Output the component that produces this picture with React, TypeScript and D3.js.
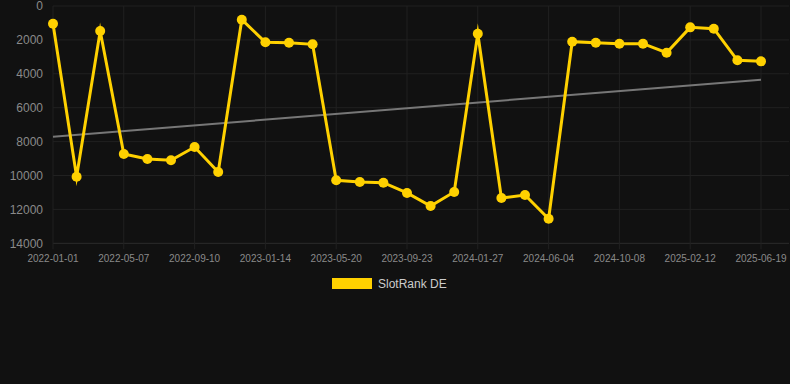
import React from "react";
import * as d3 from "d3";

const categories: string[] = [
  "2022-01-01", "2022-02-12", "2022-03-26", "2022-05-07", "2022-06-18", "2022-07-30",
  "2022-09-10", "2022-10-22", "2022-12-03", "2023-01-14", "2023-02-25", "2023-04-08",
  "2023-05-20", "2023-07-01", "2023-08-12", "2023-09-23", "2023-11-04", "2023-12-16",
  "2024-01-27", "2024-03-09", "2024-04-20", "2024-06-04", "2024-07-16", "2024-08-27",
  "2024-10-08", "2024-11-19", "2024-12-31", "2025-02-12", "2025-03-26", "2025-05-07",
  "2025-06-19",
];

const slotRankDE: number[] = [
  1050, 10070, 1475, 8730, 9030, 9100, 8320, 9790, 808, 2140, 2165, 2260,
  10285, 10380, 10425, 11030, 11800, 10970, 1634, 11330, 11150, 12550, 2105, 2165,
  2224, 2224, 2755, 1260, 1340, 3205, 3265,
];

const tickLabels: string[] = [
  "2022-01-01", "2022-05-07", "2022-09-10", "2023-01-14", "2023-05-20", "2023-09-23",
  "2024-01-27", "2024-06-04", "2024-10-08", "2025-02-12", "2025-06-19",
];

const yTicks: number[] = [0, 2000, 4000, 6000, 8000, 10000, 12000, 14000];

const seriesName = "SlotRank DE";

const W = 790;
const H = 384;
const left = 53;
const right = 761;
const top = 6;
const bottom = 243.3;
const YELLOW = "#FFD100";

export default function App() {
  const x = d3.scalePoint<string>().domain(categories).range([left, right]);
  const y = d3.scaleLinear().domain([0, 14000]).range([top, bottom]);

  const line = d3
    .line<number>()
    .x((_, i) => x(categories[i]) as number)
    .y((d) => y(d));

  // least squares trend
  const n = slotRankDE.length;
  const xs = d3.range(n);
  const mx = d3.mean(xs) as number;
  const my = d3.mean(slotRankDE) as number;
  let num = 0;
  let den = 0;
  xs.forEach((i) => {
    num += (i - mx) * (slotRankDE[i] - my);
    den += (i - mx) * (i - mx);
  });
  const slope = num / den;
  const intercept = my - slope * mx;
  const t0 = intercept;
  const t1 = intercept + slope * (n - 1);

  return (
    <div>
      <style>{`body{margin:0;background:#111111;}`}</style>
      <svg width={W} height={H} style={{ display: "block", background: "#111111" }}>
        <rect x={0} y={0} width={W} height={H} fill="#111111" />
        {/* horizontal grid */}
        {yTicks.map((t) => (
          <line
            key={"gy" + t}
            x1={left}
            x2={right + 28}
            y1={y(t)}
            y2={y(t)}
            stroke={t === 14000 ? "#2c2c2c" : "#212121"}
            strokeWidth={1}
          />
        ))}
        {/* vertical grid */}
        {tickLabels.map((t) => (
          <line key={"gx" + t} x1={x(t)} x2={x(t)} y1={top} y2={bottom + 6} stroke="#212121" strokeWidth={1} />
        ))}
        {/* y labels */}
        {yTicks.map((t) => (
          <text
            key={"yl" + t}
            x={43}
            y={y(t)}
            dy="0.35em"
            textAnchor="end"
            fontFamily="Arial, Liberation Sans, sans-serif"
            fontSize={12}
            fill="#8a8a8a"
          >
            {t}
          </text>
        ))}
        {/* x labels */}
        {tickLabels.map((t) => (
          <text
            key={"xl" + t}
            x={x(t)}
            y={262}
            textAnchor="middle"
            fontFamily="Arial, Liberation Sans, sans-serif"
            fontSize={10}
            fill="#8a8a8a"
          >
            {t}
          </text>
        ))}
        {/* trend line */}
        <line
          x1={x(categories[0])}
          x2={x(categories[n - 1])}
          y1={y(t0)}
          y2={y(t1)}
          stroke="#777777"
          strokeWidth={2}
        />
        {/* series */}
        <path d={line(slotRankDE) || ""} fill="none" stroke={YELLOW} strokeWidth={3} strokeLinejoin="miter" strokeMiterlimit={10} />
        {slotRankDE.map((v, i) => (
          <circle key={"p" + i} cx={x(categories[i])} cy={y(v)} r={5} fill={YELLOW} />
        ))}
        {/* legend */}
        <rect x={332} y={278} width={40} height={11} fill={YELLOW} />
        <text
          x={378}
          y={284}
          dy="0.35em"
          fontFamily="Arial, Liberation Sans, sans-serif"
          fontSize={12}
          fill="#cccccc"
        >
          {seriesName}
        </text>
      </svg>
    </div>
  );
}
